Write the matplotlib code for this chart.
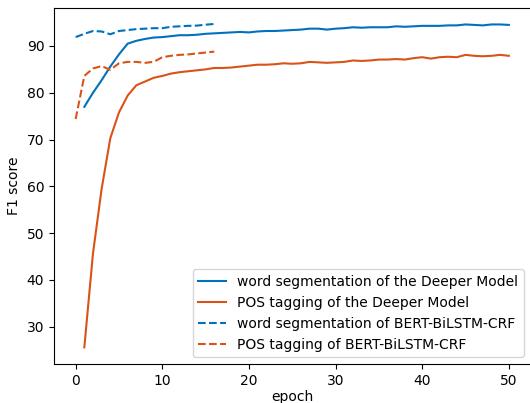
import matplotlib
matplotlib.use("Agg")
import matplotlib.pyplot as plt

epochs_deep = list(range(1, 51))
ws_deep = [77.0, 80.0, 82.7, 85.6, 88.2, 90.5, 91.1, 91.5, 91.8, 91.9,
           92.1, 92.3, 92.3, 92.4, 92.6, 92.7, 92.8, 92.9, 93.0, 92.9,
           93.1, 93.2, 93.2, 93.3, 93.4, 93.5, 93.7, 93.7, 93.5, 93.7,
           93.8, 94.0, 93.9, 94.0, 94.0, 94.0, 94.2, 94.1, 94.2, 94.3,
           94.3, 94.3, 94.4, 94.4, 94.6, 94.5, 94.4, 94.6, 94.6, 94.5]
pos_deep = [25.6, 45.7, 59.5, 70.3, 75.8, 79.4, 81.6, 82.4, 83.2, 83.6,
            84.1, 84.4, 84.6, 84.8, 85.0, 85.3, 85.3, 85.4, 85.6, 85.8,
            86.0, 86.0, 86.1, 86.3, 86.2, 86.3, 86.6, 86.5, 86.4, 86.5,
            86.6, 86.9, 86.8, 86.9, 87.1, 87.1, 87.2, 87.1, 87.4, 87.6,
            87.3, 87.6, 87.7, 87.6, 88.1, 87.9, 87.8, 87.9, 88.1, 87.9]

epochs_bert = list(range(0, 17))
ws_bert = [91.9, 92.6, 93.2, 93.1, 92.5, 93.2, 93.4, 93.6, 93.7, 93.8,
           93.8, 94.1, 94.2, 94.3, 94.35, 94.55, 94.7]
pos_bert = [74.4, 83.6, 85.2, 85.7, 84.9, 86.3, 86.6, 86.6, 86.4, 86.6,
            87.6, 87.9, 88.1, 88.2, 88.4, 88.6, 88.8]

labels = ["word segmentation of the Deeper Model",
          "POS tagging of the Deeper Model",
          "word segmentation of BERT-BiLSTM-CRF",
          "POS tagging of BERT-BiLSTM-CRF"]

blue = "#0072BD"
orange = "#D95319"

W, H = 530, 403
fig = plt.figure(figsize=(W / 100, H / 100), dpi=100)
ax = fig.add_axes([54 / W, (H - 364) / H, (530.5 - 54) / W, (364 - 8.3) / H])

ax.plot(epochs_deep, ws_deep, color=blue, lw=1.5, label=labels[0])
ax.plot(epochs_deep, pos_deep, color=orange, lw=1.5, label=labels[1])
ax.plot(epochs_bert, ws_bert, color=blue, lw=1.5, ls="--", label=labels[2])
ax.plot(epochs_bert, pos_bert, color=orange, lw=1.5, ls="--", label=labels[3])

ax.set_xlim(-2.5, 52.5)
ax.set_ylim(22.05, 98.05)
ax.set_xticks([0, 10, 20, 30, 40, 50])
ax.set_yticks([30, 40, 50, 60, 70, 80, 90])
ax.set_xlabel("epoch", labelpad=1.5)
ax.set_ylabel("F1 score")
ax.legend(loc="lower right")

fig.savefig("out.png", dpi=100)
